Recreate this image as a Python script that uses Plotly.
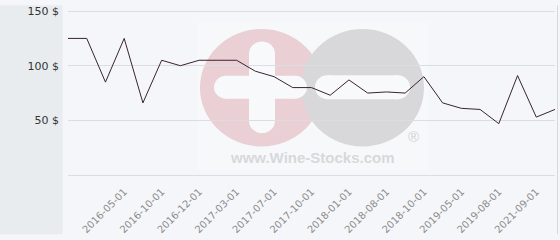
import plotly.graph_objects as go

# ---- data ----
prices = [125, 125, 85, 125, 66, 105, 100, 105, 105, 105, 95, 90, 80, 80,
          73, 87, 75, 76, 75, 90, 66, 61, 60, 47, 91, 53, 60]
tick_labels = ["2016-05-01", "2016-10-01", "2016-12-01", "2017-03-01",
               "2017-07-01", "2017-10-01", "2018-01-01", "2018-08-01",
               "2018-10-01", "2019-05-01", "2019-08-01", "2021-09-01"]
tick_index = [3, 5, 7, 9, 11, 13, 15, 17, 19, 21, 23, 25]
y_ticks = [50, 100, 150]

# ---- layout geometry (pixels) ----
W, H = 560, 240
L, R, T, B = 68, 5, 5, 62
PW, PH = W - L - R, H - T - B


def px(x):
    return (x - L) / PW


def py(y):
    return (H - B - y) / PH


fig = go.Figure()
fig.add_trace(go.Scatter(
    x=list(range(len(prices))), y=prices, mode="lines",
    line=dict(color="#3a2330", width=1), hoverinfo="skip", showlegend=False))

shapes = []
# left gray panel
shapes.append(dict(type="rect", xref="paper", yref="paper", layer="below",
                   x0=px(0), x1=px(62.5), y0=py(H), y1=py(0),
                   fillcolor="#e8ecef", line=dict(width=0)))
# right border
shapes.append(dict(type="line", xref="paper", yref="paper",
                   x0=px(557.5), x1=px(557.5), y0=py(H), y1=py(0),
                   line=dict(color="#d6d8dc", width=1)))
# watermark backdrop
shapes.append(dict(type="rect", xref="paper", yref="paper", layer="below",
                   x0=px(197), x1=px(428), y0=py(173), y1=py(18),
                   fillcolor="rgba(255,255,255,0.25)", line=dict(width=0)))


def circle(cx, cy, r, color):
    return dict(type="circle", xref="paper", yref="paper", layer="below",
                x0=px(cx - r), x1=px(cx + r), y0=py(cy + r), y1=py(cy - r),
                fillcolor=color, line=dict(width=0))


def rbar(x0, y0, x1, y1, color):
    out = []
    if (x1 - x0) > (y1 - y0):
        r = (y1 - y0) / 2
        out.append(dict(type="rect", xref="paper", yref="paper", layer="below",
                        x0=px(x0 + r), x1=px(x1 - r), y0=py(y1), y1=py(y0),
                        fillcolor=color, line=dict(width=0)))
        out.append(circle(x0 + r, y0 + r, r, color))
        out.append(circle(x1 - r, y0 + r, r, color))
    else:
        r = (x1 - x0) / 2
        out.append(dict(type="rect", xref="paper", yref="paper", layer="below",
                        x0=px(x0), x1=px(x1), y0=py(y1 - r), y1=py(y0 + r),
                        fillcolor=color, line=dict(width=0)))
        out.append(circle(x0 + r, y0 + r, r, color))
        out.append(circle(x0 + r, y1 - r, r, color))
    return out


shapes.append(circle(261.5, 86.5, 61.5, "#eacfd5"))
shapes.append(circle(362.5, 86.5, 61.5, "#d8d8da"))
shapes += rbar(249, 38, 275, 134, "#f8f9fb")
shapes += rbar(214, 74, 307, 98, "#f8f9fb")
shapes += rbar(315, 73.5, 410, 98.5, "#f8f9fb")

annotations = [
    dict(xref="paper", yref="paper", x=px(312.5), y=py(160),
         text="<b>www.Wine-Stocks.com</b>",
         showarrow=False, font=dict(family="Liberation Sans", size=15, color="#d8d8da"),
         xanchor="center", yanchor="middle"),
    dict(xref="paper", yref="paper", x=px(413), y=py(138), text="®",
         showarrow=False, font=dict(family="Liberation Sans", size=15, color="#d2d2d4"),
         xanchor="center", yanchor="middle"),
]

fig.update_layout(
    width=W, height=H, margin=dict(l=L, r=R, t=T, b=B, pad=0),
    paper_bgcolor="#f5f6f9", plot_bgcolor="rgba(0,0,0,0)",
    shapes=shapes, annotations=annotations,
    font=dict(family="DejaVu Sans"),
    xaxis=dict(range=[0, len(prices) - 1], tickmode="array", tickvals=tick_index,
               ticktext=tick_labels, tickangle=-45, showgrid=False, zeroline=False,
               showline=True, linecolor="#dcdde0", linewidth=1,
               tickfont=dict(size=10, color="#8c8c8c"), ticklabelstandoff=6),
    yaxis=dict(range=[0, 151], tickmode="array", tickvals=y_ticks,
               ticktext=[f"{v} $" for v in y_ticks], showgrid=True,
               gridcolor="#dcdde0", gridwidth=1, zeroline=False, showline=False,
               tickfont=dict(size=11, color="#333333"), ticklabelstandoff=8,
               ticklabeloverflow="allow"),
)

fig.write_html("out.html")
